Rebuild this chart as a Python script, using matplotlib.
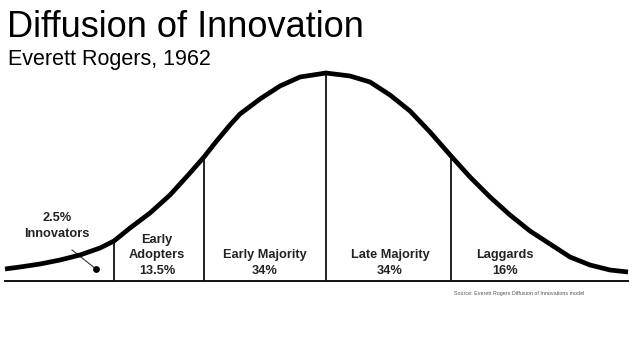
import numpy as np
import matplotlib
matplotlib.use("Agg")
import matplotlib.pyplot as plt

plt.rcParams["font.family"] = ["Liberation Sans", "DejaVu Sans"]

# ---------------------------------------------------------------------------
# Data (in pixel units: x to the right, y downwards)
# ---------------------------------------------------------------------------
BASELINE = 281
CURVE_X = [5, 20, 40, 60, 80, 100, 114, 130, 150, 170, 190, 204, 215, 230,
           240, 260, 280, 300, 326, 350, 370, 390, 410, 430, 451, 470, 490,
           510, 530, 550, 570, 590, 610, 628]
CURVE_Y = [269, 267, 264, 260, 255, 248, 241, 228, 213, 195, 173, 157, 143,
           125, 114, 99, 86, 77, 73, 76, 82, 95, 111, 132, 156, 177, 197,
           215, 231, 244, 257, 265, 270, 272]

DIVIDERS_X = [114, 204, 326, 451]

SEGMENT_LABELS = ["Early\nAdopters\n13.5%", "Early Majority\n34%",
                  "Late Majority\n34%", "Laggards\n16%"]
SEGMENT_CENTERS = [157, 265, 390, 505]
INNOVATOR_LABEL = "2.5%\nInnovators"
INNOVATOR_DOT = (96, 269)

INK = "#111111"
LABEL_INK = "#222222"

fig = plt.figure(figsize=(6.38, 3.59), dpi=100)
ax = fig.add_axes([0, 0, 1, 1])
ax.set_xlim(0, 638)
ax.set_ylim(359, 0)
ax.axis("off")

# bell curve
ax.plot(CURVE_X, CURVE_Y, color="black", linewidth=3.4,
        solid_capstyle="butt", solid_joinstyle="round", zorder=3)

# baseline
ax.plot([CURVE_X[0], CURVE_X[-1]], [BASELINE, BASELINE],
        color=INK, linewidth=1.4, zorder=2)

# vertical dividers up to the curve
tops = np.interp(DIVIDERS_X, CURVE_X, CURVE_Y)
for xv, yt in zip(DIVIDERS_X, tops):
    ax.plot([xv, xv], [BASELINE, yt], color=INK, linewidth=1.3, zorder=2)

# segment labels
for label, xc in zip(SEGMENT_LABELS, SEGMENT_CENTERS):
    ax.text(xc, 274, label, ha="center", va="baseline", fontsize=9.2,
            fontweight="bold", color=LABEL_INK, linespacing=1.4)

# innovators label with leader line and dot
ax.text(57, 237, INNOVATOR_LABEL, ha="center", va="baseline", fontsize=9.2,
        fontweight="bold", color=LABEL_INK, linespacing=1.4)
ax.plot([72, INNOVATOR_DOT[0]], [250, INNOVATOR_DOT[1]],
        color="#333333", linewidth=0.8, zorder=2)
ax.scatter([INNOVATOR_DOT[0]], [INNOVATOR_DOT[1]], s=24, color="black",
           linewidths=0, zorder=4)

# titles
ax.text(7, 37, "Diffusion of Innovation", ha="left", va="baseline",
        fontsize=26, color="black")
ax.text(8, 65, "Everett Rogers, 1962", ha="left", va="baseline",
        fontsize=15.5, color="black")

# source
ax.text(519, 293, "Source: Everett Rogers Diffusion of Innovations model",
        ha="center", va="center", fontsize=3.9, color="#555555")

fig.savefig("out.png", dpi=100, facecolor="white")
